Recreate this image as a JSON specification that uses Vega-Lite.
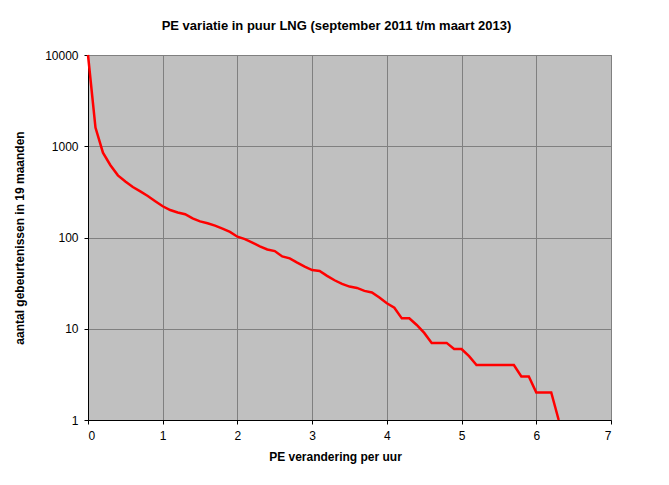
{
  "$schema": "https://vega.github.io/schema/vega-lite/v6.json",
  "width": 523,
  "height": 365,
  "autosize": {"type": "none"},
  "padding": {"left": 88, "top": 55, "right": 58, "bottom": 65},
  "background": "white",
  "title": {
    "text": "PE variatie in puur LNG (september 2011 t/m maart 2013)",
    "font": "Liberation Sans",
    "fontSize": 13,
    "fontWeight": "bold",
    "color": "black",
    "anchor": "middle",
    "dx": -13,
    "offset": 16
  },
  "config": {
    "view": {"fill": "#C0C0C0", "stroke": "#808080", "strokeWidth": 1},
    "axis": {
      "labelFont": "Liberation Sans",
      "labelFontSize": 12,
      "labelColor": "black",
      "titleFont": "Liberation Sans",
      "titleFontSize": 12,
      "titleFontWeight": "bold",
      "titleColor": "black",
      "gridColor": "#808080",
      "gridOpacity": 1,
      "gridWidth": 1,
      "domainColor": "black",
      "tickColor": "black",
      "tickSize": 4
    }
  },
  "data": {
    "values": [
      {"x": 0.0, "n": 10000},
      {"x": 0.1, "n": 1600},
      {"x": 0.2, "n": 850},
      {"x": 0.3, "n": 620},
      {"x": 0.4, "n": 480},
      {"x": 0.5, "n": 410},
      {"x": 0.6, "n": 357},
      {"x": 0.7, "n": 320},
      {"x": 0.8, "n": 285},
      {"x": 0.9, "n": 250},
      {"x": 1.0, "n": 220},
      {"x": 1.1, "n": 200},
      {"x": 1.2, "n": 188},
      {"x": 1.3, "n": 180},
      {"x": 1.4, "n": 162},
      {"x": 1.5, "n": 150},
      {"x": 1.6, "n": 143},
      {"x": 1.7, "n": 135},
      {"x": 1.8, "n": 125},
      {"x": 1.9, "n": 115},
      {"x": 2.0, "n": 102},
      {"x": 2.1, "n": 96},
      {"x": 2.2, "n": 88},
      {"x": 2.3, "n": 80},
      {"x": 2.4, "n": 74},
      {"x": 2.5, "n": 71},
      {"x": 2.6, "n": 62},
      {"x": 2.7, "n": 59},
      {"x": 2.8, "n": 53},
      {"x": 2.9, "n": 48},
      {"x": 3.0, "n": 44},
      {"x": 3.1, "n": 43},
      {"x": 3.2, "n": 38},
      {"x": 3.3, "n": 34},
      {"x": 3.4, "n": 31},
      {"x": 3.5, "n": 29},
      {"x": 3.6, "n": 28},
      {"x": 3.7, "n": 26},
      {"x": 3.8, "n": 25},
      {"x": 3.9, "n": 22},
      {"x": 4.0, "n": 19},
      {"x": 4.1, "n": 17},
      {"x": 4.2, "n": 13},
      {"x": 4.3, "n": 13},
      {"x": 4.4, "n": 11},
      {"x": 4.5, "n": 9},
      {"x": 4.6, "n": 7},
      {"x": 4.7, "n": 7},
      {"x": 4.8, "n": 7},
      {"x": 4.9, "n": 6},
      {"x": 5.0, "n": 6},
      {"x": 5.1, "n": 5},
      {"x": 5.2, "n": 4},
      {"x": 5.3, "n": 4},
      {"x": 5.4, "n": 4},
      {"x": 5.5, "n": 4},
      {"x": 5.6, "n": 4},
      {"x": 5.7, "n": 4},
      {"x": 5.8, "n": 3},
      {"x": 5.9, "n": 3},
      {"x": 6.0, "n": 2},
      {"x": 6.1, "n": 2},
      {"x": 6.2, "n": 2},
      {"x": 6.3, "n": 1}
    ]
  },
  "mark": {"type": "line", "color": "#FF0000", "strokeWidth": 2.5},
  "encoding": {
    "x": {
      "field": "x",
      "type": "quantitative",
      "scale": {"domain": [0, 7], "nice": false},
      "axis": {
        "values": [0, 1, 2, 3, 4, 5, 6, 7],
        "format": "d",
        "title": "PE verandering per uur",
        "titlePadding": 10,
        "titleX": 247,
        "labelPadding": 6
      }
    },
    "y": {
      "field": "n",
      "type": "quantitative",
      "scale": {"type": "log", "domain": [1, 10000], "nice": false},
      "axis": {
        "values": [1, 10, 100, 1000, 10000],
        "format": "d",
        "title": "aantal gebeurtenissen in 19 maanden",
        "titlePadding": 18,
        "labelPadding": 6
      }
    }
  }
}
